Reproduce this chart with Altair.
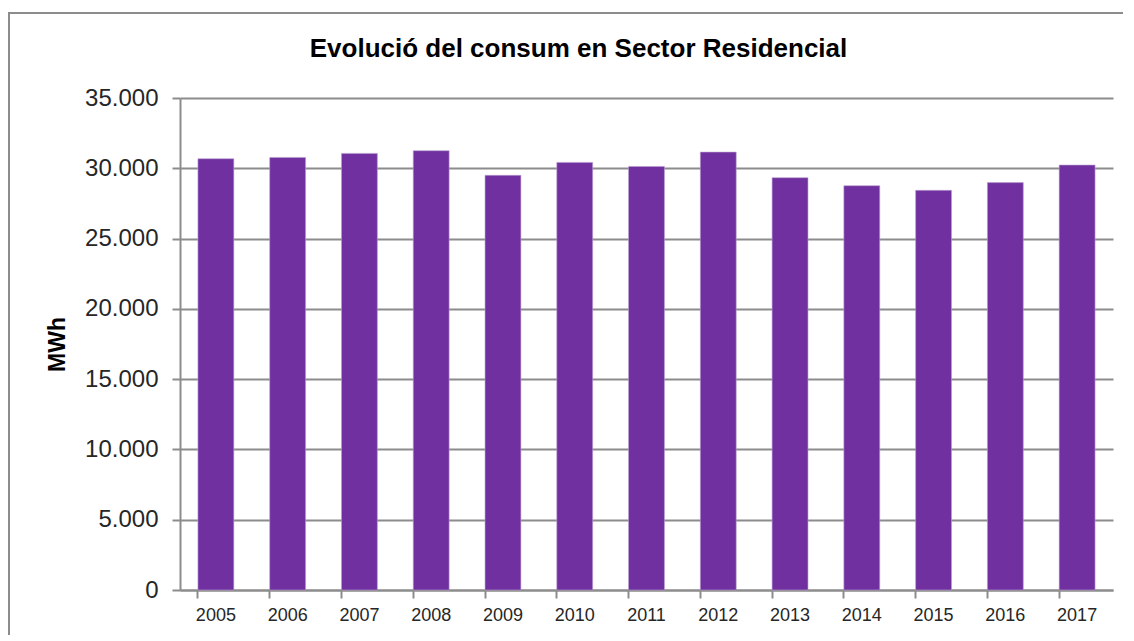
import altair as alt
import pandas as pd

years = ["2005", "2006", "2007", "2008", "2009", "2010", "2011",
         "2012", "2013", "2014", "2015", "2016", "2017"]
consum = [30680, 30770, 31060, 31250, 29500, 30420, 30130,
          31150, 29330, 28760, 28430, 28980, 30230]
y_ticks = [0, 5000, 10000, 15000, 20000, 25000, 30000, 35000]

df = pd.DataFrame({"year": years, "value": consum})

W, H = 933, 492
label_font = "Liberation Sans, Arial"

bars = alt.Chart(df).mark_bar(color="#7030A0", stroke="#b9a0d0", strokeWidth=0.6).encode(
    x=alt.X("year:N", sort=years,
            scale=alt.Scale(paddingInner=0.5, paddingOuter=0.25),
            axis=alt.Axis(title=None, labelAngle=0, bandPosition=0,
                          tickSize=8, tickColor="#8c8c8c", tickWidth=2,
                          domainColor="#8c8c8c", domainWidth=2,
                          labelFont=label_font, labelFontSize=18,
                          labelColor="#262626", labelPadding=8,
                          grid=False)),
    y=alt.Y("value:Q", scale=alt.Scale(domain=[0, 35000], nice=False),
            axis=alt.Axis(title="MWh", values=y_ticks,
                          labelExpr="replace(format(datum.value, ','), ',', '.')",
                          labelFont=label_font, labelFontSize=24,
                          labelColor="#262626", labelPadding=14,
                          tickSize=8, tickColor="#8c8c8c", tickWidth=2,
                          domainColor="#8c8c8c", domainWidth=2,
                          gridColor="#8c8c8c", gridWidth=2,
                          titleFont="Liberation Sans", titleFontWeight="bold",
                          titleFontSize=23, titleColor="#000000",
                          titleX=-111, titleY=H / 2)),
)

frame = alt.Chart(df).mark_rect(fill=None, stroke="#8c8c8c", strokeWidth=2).encode(
    x=alt.value(-171), x2=alt.value(W + 80),
    y=alt.value(-85), y2=alt.value(H + 80),
)

chart = alt.layer(frame, bars).properties(
    width=W, height=H,
    title=alt.TitleParams(
        "Evolució del consum en Sector Residencial",
        font="Liberation Sans", fontSize=26, fontWeight="bold",
        color="#000000", dx=-68, offset=0, dy=50, anchor="middle",
    ),
    autosize=alt.AutoSizeParams(type="none"),
    padding={"left": 172, "top": 90, "right": 10, "bottom": 45},
).configure_view(stroke=None)

chart.save("out.html", embed_options={"renderer": "svg", "actions": False})
